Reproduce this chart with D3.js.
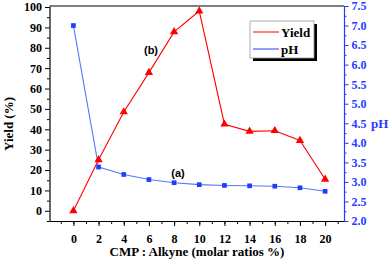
<!DOCTYPE html>
<html>
<head>
<meta charset="utf-8">
<script src="https://cdn.jsdelivr.net/npm/d3@7"></script>
<style>
  body { margin: 0; background: #fff; }
  svg { display: block; }
  .tick text { font-family: "Liberation Serif", serif; font-weight: bold; font-size: 12px; }
</style>
</head>
<body>
<div id="chart"></div>
<script>
// data
var ratios = [0, 2, 4, 6, 8, 10, 12, 14, 16, 18, 20];
var yieldVals = [0, 25, 48.5, 67.8, 87.8, 98, 42.5, 39, 39.3, 34.5, 15.5];
var phVals = [7.0, 3.38, 3.19, 3.06, 2.98, 2.93, 2.91, 2.9, 2.89, 2.85, 2.76];
var xTicks = [0, 2, 4, 6, 8, 10, 12, 14, 16, 18, 20];
var yieldTicks = [0, 10, 20, 30, 40, 50, 60, 70, 80, 90, 100];
var phTicks = [2.0, 2.5, 3.0, 3.5, 4.0, 4.5, 5.0, 5.5, 6.0, 6.5, 7.0, 7.5];

var width = 391, height = 262,
    plotLeft = 49.5, plotRight = 344, plotTop = 6, plotBottom = 221,
    red = "#ff0000", blue = "#1f3cff", blueLine = "#5577ff";

var svg = d3.select("#chart").append("svg")
    .attr("width", width).attr("height", height);

var xScale = d3.scaleLinear().domain([-1.9, 21.5]).range([plotLeft, plotRight]),
    yScale = d3.scaleLinear().domain([-5, 100.5]).range([plotBottom, plotTop]),
    phScale = d3.scaleLinear().domain([2.0, 7.5]).range([plotBottom, plotTop]);

// frame (top line)
svg.append("line")
    .attr("x1", plotLeft).attr("x2", plotRight)
    .attr("y1", plotTop).attr("y2", plotTop)
    .attr("stroke", "#000").attr("stroke-width", 1.2);

// bottom axis, minor then major
svg.append("g")
    .attr("transform", "translate(0," + plotBottom + ")")
    .call(d3.axisBottom(xScale).tickValues(d3.range(-1, 22, 1)).tickSize(3).tickFormat(""))
    .call(function(g) { g.select(".domain").remove(); });
svg.append("g")
    .attr("transform", "translate(0," + plotBottom + ")")
    .call(d3.axisBottom(xScale).tickValues(xTicks).tickSize(5).tickPadding(8).tickSizeOuter(0))
    .call(function(g) { g.select(".domain").attr("stroke-width", 1.2); });

// left axis
svg.append("g")
    .attr("transform", "translate(" + plotLeft + ",0)")
    .call(d3.axisLeft(yScale).tickValues(d3.range(-5, 100, 10)).tickSize(2.5).tickFormat(""))
    .call(function(g) { g.select(".domain").remove(); });
svg.append("g")
    .attr("transform", "translate(" + plotLeft + ",0)")
    .call(d3.axisLeft(yScale).tickValues(yieldTicks).tickSize(4.5).tickPadding(3).tickSizeOuter(0))
    .call(function(g) { g.select(".domain").attr("stroke-width", 1.2); });

// right axis (pH), blue
var rightMinor = svg.append("g")
    .attr("transform", "translate(" + plotRight + ",0)")
    .call(d3.axisRight(phScale).tickValues(d3.range(2.25, 7.5, 0.5)).tickSize(2.5).tickFormat(""));
rightMinor.select(".domain").remove();
rightMinor.selectAll("line").attr("stroke", blue);
var rightAxis = svg.append("g")
    .attr("transform", "translate(" + plotRight + ",0)")
    .call(d3.axisRight(phScale).tickValues(phTicks).tickSize(4.5).tickPadding(3)
          .tickSizeOuter(0).tickFormat(d3.format(".1f")));
rightAxis.select(".domain").attr("stroke", blue).attr("stroke-width", 1.2);
rightAxis.selectAll("line").attr("stroke", blue);
rightAxis.selectAll("text").attr("fill", blue);

// axis titles
svg.append("text")
    .attr("transform", "translate(13,124) rotate(-90)")
    .attr("text-anchor", "middle")
    .style("font-family", "Liberation Serif, serif").style("font-weight", "bold").style("font-size", "13px")
    .text("Yield (%)");
svg.append("text")
    .attr("x", 197).attr("y", 256)
    .attr("text-anchor", "middle")
    .style("font-family", "Liberation Serif, serif").style("font-weight", "bold").style("font-size", "13px")
    .text("CMP : Alkyne (molar ratios %)");
svg.append("text")
    .attr("x", 371).attr("y", 128)
    .attr("fill", blue)
    .style("font-family", "Liberation Serif, serif").style("font-weight", "bold").style("font-size", "13px")
    .text("pH");

// series lines
var yieldLine = d3.line()
    .x(function(d, i) { return xScale(ratios[i]); })
    .y(function(d) { return yScale(d); });
var phLine = d3.line()
    .x(function(d, i) { return xScale(ratios[i]); })
    .y(function(d) { return phScale(d); });

svg.append("path").datum(phVals)
    .attr("d", phLine).attr("fill", "none")
    .attr("stroke", blueLine).attr("stroke-width", 1.1);
svg.append("path").datum(yieldVals)
    .attr("d", yieldLine).attr("fill", "none")
    .attr("stroke", red).attr("stroke-width", 1.1);

var tri = d3.symbol().type(d3.symbolTriangle).size(30),
    sq = d3.symbol().type(d3.symbolSquare).size(22);

svg.selectAll(".ph-pt").data(phVals).enter()
    .append("path").attr("class", "ph-pt")
    .attr("d", sq)
    .attr("transform", function(d, i) { return "translate(" + xScale(ratios[i]) + "," + phScale(d) + ")"; })
    .attr("fill", blue);
svg.selectAll(".yield-pt").data(yieldVals).enter()
    .append("path").attr("class", "yield-pt")
    .attr("d", tri)
    .attr("transform", function(d, i) { return "translate(" + xScale(ratios[i]) + "," + yScale(d) + ")"; })
    .attr("fill", red);

// annotations
svg.append("text")
    .attr("x", 151).attr("y", 54).attr("text-anchor", "middle")
    .style("font-family", "Liberation Sans, sans-serif").style("font-weight", "bold").style("font-size", "11px")
    .text("(b)");
svg.append("text")
    .attr("x", 178).attr("y", 177).attr("text-anchor", "middle")
    .style("font-family", "Liberation Sans, sans-serif").style("font-weight", "bold").style("font-size", "11px")
    .text("(a)");

// legend
var legend = svg.append("g").attr("transform", "translate(250,21)");
legend.append("rect")
    .attr("x", 3).attr("y", 3).attr("width", 64).attr("height", 37)
    .attr("fill", "#000");
legend.append("rect")
    .attr("x", 0).attr("y", 0).attr("width", 64).attr("height", 37)
    .attr("fill", "#fff").attr("stroke", "#999").attr("stroke-width", 0.8);

var legendItems = [
    { label: "Yield", color: red, symbol: tri },
    { label: "pH", color: blue, symbol: sq }
];
var items = legend.selectAll(".item").data(legendItems).enter()
    .append("g").attr("class", "item")
    .attr("transform", function(d, i) { return "translate(0," + (11 + i * 17) + ")"; });
items.append("line")
    .attr("x1", 3).attr("x2", 29)
    .attr("stroke", function(d) { return d.color; }).attr("stroke-width", 1);
items.append("path")
    .attr("d", function(d) { return d.symbol; })
    .attr("transform", "translate(16,0)")
    .attr("fill", function(d) { return d.color; });
items.append("text")
    .attr("x", 31).attr("y", 4.5)
    .style("font-family", "Liberation Serif, serif").style("font-weight", "bold").style("font-size", "13px")
    .text(function(d) { return d.label; });
</script>
</body>
</html>
